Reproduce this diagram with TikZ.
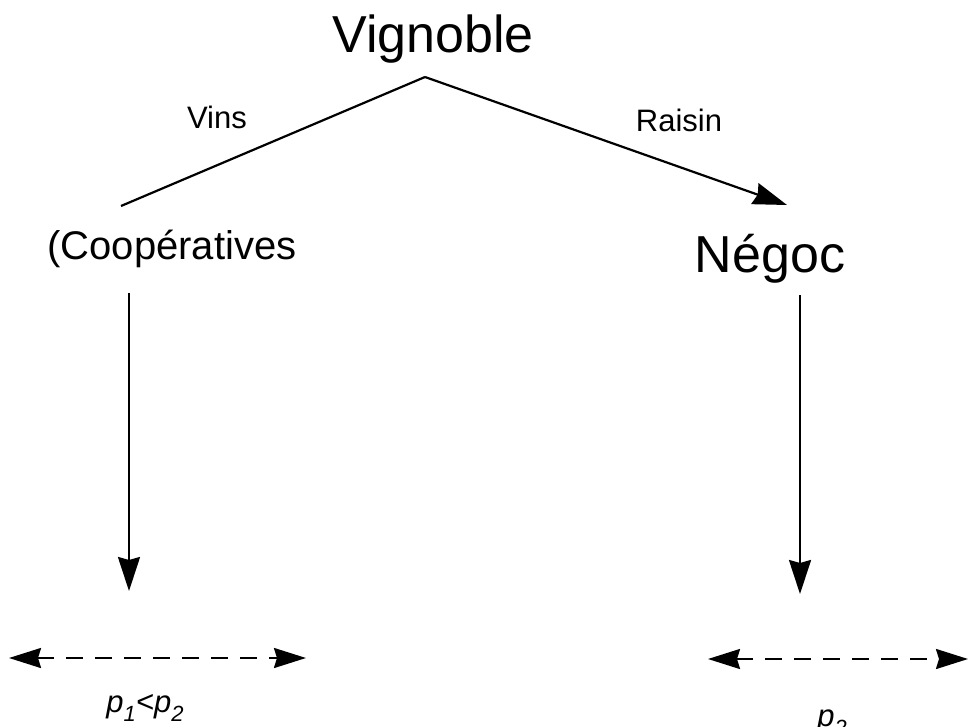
\documentclass[tikz,border=0pt]{standalone}
\usepackage{fontspec}
\setmainfont{Liberation Sans}
\usetikzlibrary{arrows.meta}

\tikzset{
  big/.style={font=\fontsize{52}{60}\selectfont, inner sep=0pt, anchor=base},
  mid/.style={font=\fontsize{40}{48}\selectfont, inner sep=0pt, anchor=base},
  lbl/.style={font=\fontsize{31}{36}\selectfont, inner sep=0pt, anchor=base},
  price/.style={font=\fontsize{31}{36}\selectfont\itshape, inner sep=0pt, anchor=base},
  link/.style={line width=2.2pt},
  flow/.style={line width=2.2pt, -{Stealth[length=34pt,width=22pt,inset=3pt]}},
  market/.style={line width=2.2pt, dash pattern=on 17pt off 12pt,
    {Stealth[length=32pt,width=20pt,inset=3pt]}-{Stealth[length=32pt,width=20pt,inset=3pt]}},
}

\begin{document}
\begin{tikzpicture}[x=1pt,y=-1pt]
  \useasboundingbox (0,0) rectangle (968,727);

  % text of the chain
  \node[big] (vig) at (433,53) {Vignoble};
  \node[mid] (coop) at (172,259) {(Coopératives};
  \node[big] (neg) at (770,272) {Négoc};
  \node[lbl] (vins) at (217,129) {Vins};
  \node[lbl] (raisin) at (679,132) {Raisin};

  % branching point and ends of the two branches
  \coordinate (apex) at (425,77);
  \coordinate (lend) at (121,206);
  \coordinate (rtip) at (787,205);
  \draw[link] (apex) -- (lend);
  \draw[flow] (apex) -- (rtip);

  % vertical flows down to the markets
  \coordinate (ltop) at (129,293);
  \coordinate (lbot) at (129,591);
  \coordinate (rtop) at (800,295);
  \coordinate (rbot) at (800,594);
  \draw[flow] (ltop) -- (lbot);
  \draw[flow] (rtop) -- (rbot);

  % price ranges
  \coordinate (lma) at (9,658);
  \coordinate (lmb) at (306,658);
  \coordinate (rma) at (708,659);
  \coordinate (rmb) at (968,659);
  \draw[market] (lma) -- (lmb);
  \draw[market] (rma) -- (rmb);

  \node[price] (p1) at (145,712) {p\raisebox{-0.3em}{\fontsize{22}{26}\selectfont 1}<p\raisebox{-0.3em}{\fontsize{22}{26}\selectfont 2}};
  \node[price] (p2) at (832,726) {p\raisebox{-0.3em}{\fontsize{22}{26}\selectfont 2}};
\end{tikzpicture}
\end{document}
